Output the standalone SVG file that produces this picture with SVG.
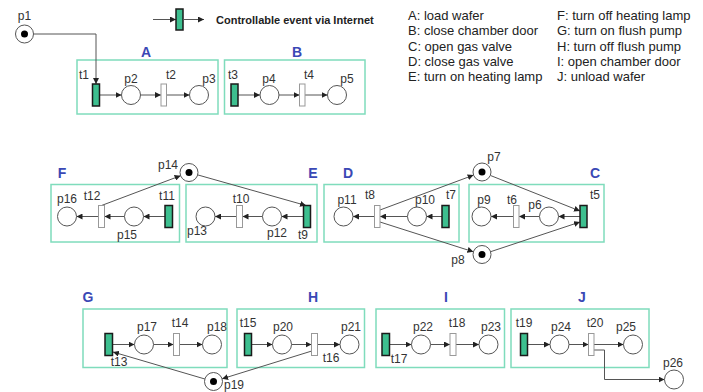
<svg xmlns="http://www.w3.org/2000/svg" width="703" height="392" viewBox="0 0 703 392">
<defs>
<marker id="ah" markerUnits="userSpaceOnUse" markerWidth="7" markerHeight="6" refX="6" refY="3" orient="auto"><path d="M0,0 L6,3 L0,6 z" fill="#222"/></marker>
</defs>
<style>
.box{fill:none;stroke:#7fdcbc;stroke-width:1.5}
.pl{fill:#fff;stroke:#555;stroke-width:1}
.tk{fill:#000}
.tc{fill:#3dbf8f;stroke:#1a1a1a;stroke-width:1.5}
.tu{fill:#fff;stroke:#999;stroke-width:1}
.ed{fill:none;stroke:#555;stroke-width:1;marker-end:url(#ah)}
.lb{font-family:"Liberation Sans",Arial,sans-serif;font-size:12px;fill:#333;text-anchor:middle}
.gl{font-family:"Liberation Sans",Arial,sans-serif;font-size:14px;font-weight:bold;fill:#3a48b5;text-anchor:middle}
.lg{font-family:"Liberation Sans",Arial,sans-serif;font-size:13px;fill:#222}
.lt{font-family:"Liberation Sans",Arial,sans-serif;font-size:11px;font-weight:bold;fill:#222}
</style>
<rect width="703" height="392" fill="#fff"/>

<g id="legend">
<line class="ed" x1="153" y1="19.5" x2="176" y2="19.5"/>
<rect class="tc" x="176" y="9" width="7" height="21"/>
<line class="ed" x1="183" y1="19.5" x2="204" y2="19.5"/>
<text class="lt" x="216" y="24">Controllable event via Internet</text>
<text class="lg" x="408" y="19.5">A: load wafer</text>
<text class="lg" x="408" y="35">B: close chamber door</text>
<text class="lg" x="408" y="50.5">C: open gas valve</text>
<text class="lg" x="408" y="66">D: close gas valve</text>
<text class="lg" x="408" y="81">E: turn on heating lamp</text>
<text class="lg" x="557" y="19.5">F: turn off heating lamp</text>
<text class="lg" x="557" y="35">G: turn on flush pump</text>
<text class="lg" x="557" y="50.5">H: turn off flush pump</text>
<text class="lg" x="557" y="66">I: open chamber door</text>
<text class="lg" x="557" y="81">J: unload wafer</text>
</g>

<g id="groups">
<rect id="boxA" class="box" x="77" y="60" width="141" height="54"/><text class="gl" x="146" y="57">A</text>
<rect id="boxB" class="box" x="224.5" y="60" width="140.5" height="54"/><text class="gl" x="297" y="57">B</text>
<rect id="boxF" class="box" x="51" y="184.5" width="128.5" height="57.5"/><text class="gl" x="62" y="178">F</text>
<rect id="boxE" class="box" x="186" y="184.5" width="131" height="57.5"/><text class="gl" x="313" y="178">E</text>
<rect id="boxD" class="box" x="324" y="184.5" width="135" height="57.5"/><text class="gl" x="348" y="178">D</text>
<rect id="boxC" class="box" x="469" y="184.5" width="135" height="57.5"/><text class="gl" x="595" y="178">C</text>
<rect id="boxG" class="box" x="83" y="309" width="144" height="58.5"/><text class="gl" x="88" y="302">G</text>
<rect id="boxH" class="box" x="237" y="309" width="127.5" height="58.5"/><text class="gl" x="313" y="302">H</text>
<rect id="boxI" class="box" x="376" y="309" width="128.5" height="58.5"/><text class="gl" x="446" y="302">I</text>
<rect id="boxJ" class="box" x="511" y="309" width="138" height="58.5"/><text class="gl" x="582" y="302">J</text>
</g>

<g id="connectors">
<path class="ed" d="M33.5,34 H96 V84"/>
<line class="ed" x1="99.5" y1="95" x2="121.5" y2="95"/>
<line class="ed" x1="140.5" y1="95" x2="161" y2="95"/>
<line class="ed" x1="166.5" y1="95" x2="189.5" y2="95"/>
<line class="ed" x1="238" y1="95" x2="260" y2="95"/>
<line class="ed" x1="279" y1="95" x2="299.5" y2="95"/>
<line class="ed" x1="305" y1="95" x2="327.5" y2="95"/>

<line class="ed" x1="165" y1="216.5" x2="143.5" y2="216.5"/>
<line class="ed" x1="124.5" y1="216.5" x2="104.5" y2="216.5"/>
<line class="ed" x1="98.5" y1="216.5" x2="76.5" y2="216.5"/>
<line class="ed" x1="303.5" y1="216.5" x2="281.5" y2="216.5"/>
<line class="ed" x1="262.5" y1="216.5" x2="242.5" y2="216.5"/>
<line class="ed" x1="236.5" y1="216.5" x2="215" y2="216.5"/>
<line class="ed" x1="442" y1="216.5" x2="426.5" y2="216.5"/>
<line class="ed" x1="407.5" y1="216.5" x2="380" y2="216.5"/>
<line class="ed" x1="374.5" y1="216.5" x2="353" y2="216.5"/>
<line class="ed" x1="580" y1="216.5" x2="558.5" y2="216.5"/>
<line class="ed" x1="539.5" y1="216.5" x2="519" y2="216.5"/>
<line class="ed" x1="513.5" y1="216.5" x2="491" y2="216.5"/>
<line class="ed" x1="101.5" y1="205.5" x2="180.6" y2="175.7"/>
<line class="ed" x1="197.7" y1="174.9" x2="306" y2="205.5"/>
<line class="ed" x1="380" y1="210" x2="473.6" y2="175.1"/>
<line class="ed" x1="490.5" y1="175.5" x2="580" y2="211"/>
<line class="ed" x1="380" y1="222" x2="473.4" y2="251.8"/>
<line class="ed" x1="490.6" y1="251.7" x2="580" y2="222"/>

<line class="ed" x1="112.5" y1="344.5" x2="134.5" y2="344.5"/>
<line class="ed" x1="153.5" y1="344.5" x2="173.5" y2="344.5"/>
<line class="ed" x1="179.5" y1="344.5" x2="202.5" y2="344.5"/>
<line class="ed" x1="251.5" y1="344.5" x2="272.5" y2="344.5"/>
<line class="ed" x1="291.5" y1="344.5" x2="311.5" y2="344.5"/>
<line class="ed" x1="317.5" y1="344.5" x2="340" y2="344.5"/>
<line class="ed" x1="389.5" y1="344.5" x2="411.5" y2="344.5"/>
<line class="ed" x1="430.5" y1="344.5" x2="450" y2="344.5"/>
<line class="ed" x1="456" y1="344.5" x2="479" y2="344.5"/>
<line class="ed" x1="527.5" y1="344.5" x2="550" y2="344.5"/>
<line class="ed" x1="569" y1="344.5" x2="588.5" y2="344.5"/>
<line class="ed" x1="594" y1="344.5" x2="623.5" y2="344.5"/>
<line class="ed" x1="204.9" y1="379" x2="113" y2="352"/>
<line class="ed" x1="315" y1="350" x2="222.1" y2="378.8"/>
<path class="ed" d="M594,350 H604.5 V379.5 H664.5"/>
</g>

<g id="p1"><circle class="pl" cx="24.5" cy="34" r="9"/><circle class="tk" cx="24.5" cy="34" r="3.5"/><text class="lb" x="24.5" y="20">p1</text></g>
<g id="t1"><rect class="tc" x="92.5" y="84" width="7" height="22"/><text class="lb" x="84" y="79">t1</text></g>
<g id="p2"><circle class="pl" cx="131" cy="95" r="9.5"/><text class="lb" x="131" y="83">p2</text></g>
<g id="t2"><rect class="tu" x="161" y="84" width="5.5" height="22"/><text class="lb" x="171" y="79">t2</text></g>
<g id="p3"><circle class="pl" cx="199" cy="95" r="9.5"/><text class="lb" x="209" y="83">p3</text></g>
<g id="t3"><rect class="tc" x="231" y="84" width="7" height="22"/><text class="lb" x="233" y="79">t3</text></g>
<g id="p4"><circle class="pl" cx="269.5" cy="95" r="9.5"/><text class="lb" x="269" y="83">p4</text></g>
<g id="t4"><rect class="tu" x="299.5" y="84" width="5.5" height="22"/><text class="lb" x="309" y="79">t4</text></g>
<g id="p5"><circle class="pl" cx="337" cy="95" r="9.5"/><text class="lb" x="347" y="83">p5</text></g>

<g id="p16"><circle class="pl" cx="67" cy="216.5" r="9.5"/><text class="lb" x="67" y="203">p16</text></g>
<g id="t12"><rect class="tu" x="98.5" y="205.5" width="6" height="22"/><text class="lb" x="92" y="200">t12</text></g>
<g id="p15"><circle class="pl" cx="134" cy="216.5" r="9.5"/><text class="lb" x="127" y="239">p15</text></g>
<g id="t11"><rect class="tc" x="165" y="205.5" width="7.5" height="22"/><text class="lb" x="167" y="200">t11</text></g>
<g id="p14"><circle class="pl" cx="189" cy="172.5" r="9"/><circle class="tk" cx="189" cy="172.5" r="3.5"/><text class="lb" x="168" y="169">p14</text></g>
<g id="p13"><circle class="pl" cx="205.5" cy="216.5" r="9.5"/><text class="lb" x="197" y="235">p13</text></g>
<g id="t10"><rect class="tu" x="236.5" y="205.5" width="6" height="22"/><text class="lb" x="241" y="203">t10</text></g>
<g id="p12"><circle class="pl" cx="272" cy="216.5" r="9.5"/><text class="lb" x="277" y="237">p12</text></g>
<g id="t9"><rect class="tc" x="303.5" y="205.5" width="7" height="22"/><text class="lb" x="303" y="239">t9</text></g>
<g id="p11"><circle class="pl" cx="343.5" cy="216.5" r="9.5"/><text class="lb" x="347" y="204">p11</text></g>
<g id="t8"><rect class="tu" x="374.5" y="205.5" width="5.5" height="22"/><text class="lb" x="370" y="199">t8</text></g>
<g id="p10"><circle class="pl" cx="417" cy="216.5" r="9.5"/><text class="lb" x="425" y="204">p10</text></g>
<g id="t7"><rect class="tc" x="442" y="205.5" width="7" height="22"/><text class="lb" x="451" y="199">t7</text></g>
<g id="p7"><circle class="pl" cx="482" cy="172" r="9"/><circle class="tk" cx="482" cy="172" r="3.5"/><text class="lb" x="494" y="161">p7</text></g>
<g id="p8"><circle class="pl" cx="482" cy="254.5" r="9"/><circle class="tk" cx="482" cy="254.5" r="3.5"/><text class="lb" x="458" y="264">p8</text></g>
<g id="p9"><circle class="pl" cx="481.5" cy="216.5" r="9.5"/><text class="lb" x="484" y="204">p9</text></g>
<g id="t6"><rect class="tu" x="513.5" y="205.5" width="5.5" height="22"/><text class="lb" x="512" y="204">t6</text></g>
<g id="p6"><circle class="pl" cx="549" cy="216.5" r="9.5"/><text class="lb" x="535" y="209">p6</text></g>
<g id="t5"><rect class="tc" x="580" y="205.5" width="7" height="22"/><text class="lb" x="595" y="199">t5</text></g>

<g id="t13"><rect class="tc" x="105" y="333.5" width="7.5" height="22"/><text class="lb" x="119" y="366">t13</text></g>
<g id="p17"><circle class="pl" cx="144" cy="344.5" r="9.5"/><text class="lb" x="147" y="331">p17</text></g>
<g id="t14"><rect class="tu" x="173.5" y="333.5" width="6" height="22"/><text class="lb" x="180" y="327">t14</text></g>
<g id="p18"><circle class="pl" cx="212" cy="344.5" r="9.5"/><text class="lb" x="217" y="331">p18</text></g>
<g id="t15"><rect class="tc" x="244.5" y="333.5" width="7" height="22"/><text class="lb" x="248" y="327">t15</text></g>
<g id="p20"><circle class="pl" cx="282" cy="344.5" r="9.5"/><text class="lb" x="283" y="331">p20</text></g>
<g id="t16"><rect class="tu" x="311.5" y="333.5" width="6" height="22"/><text class="lb" x="331" y="362">t16</text></g>
<g id="p21"><circle class="pl" cx="349.5" cy="344.5" r="9.5"/><text class="lb" x="351" y="331">p21</text></g>
<g id="p19"><circle class="pl" cx="213.5" cy="381.5" r="9"/><circle class="tk" cx="213.5" cy="381.5" r="3.5"/><text class="lb" x="234" y="389">p19</text></g>
<g id="t17"><rect class="tc" x="382" y="333.5" width="7.5" height="22"/><text class="lb" x="399" y="363">t17</text></g>
<g id="p22"><circle class="pl" cx="421" cy="344.5" r="9.5"/><text class="lb" x="423" y="331">p22</text></g>
<g id="t18"><rect class="tu" x="450" y="333.5" width="6" height="22"/><text class="lb" x="457" y="327">t18</text></g>
<g id="p23"><circle class="pl" cx="488.5" cy="344.5" r="9.5"/><text class="lb" x="491" y="331">p23</text></g>
<g id="t19"><rect class="tc" x="520.5" y="333.5" width="7" height="22"/><text class="lb" x="524" y="327">t19</text></g>
<g id="p24"><circle class="pl" cx="559.5" cy="344.5" r="9.5"/><text class="lb" x="561" y="331">p24</text></g>
<g id="t20"><rect class="tu" x="588.5" y="333.5" width="5.5" height="22"/><text class="lb" x="595" y="327">t20</text></g>
<g id="p25"><circle class="pl" cx="633" cy="344.5" r="9.5"/><text class="lb" x="626" y="331">p25</text></g>
<g id="p26"><circle class="pl" cx="674" cy="379.5" r="9.5"/><text class="lb" x="673" y="367">p26</text></g>
</svg>
